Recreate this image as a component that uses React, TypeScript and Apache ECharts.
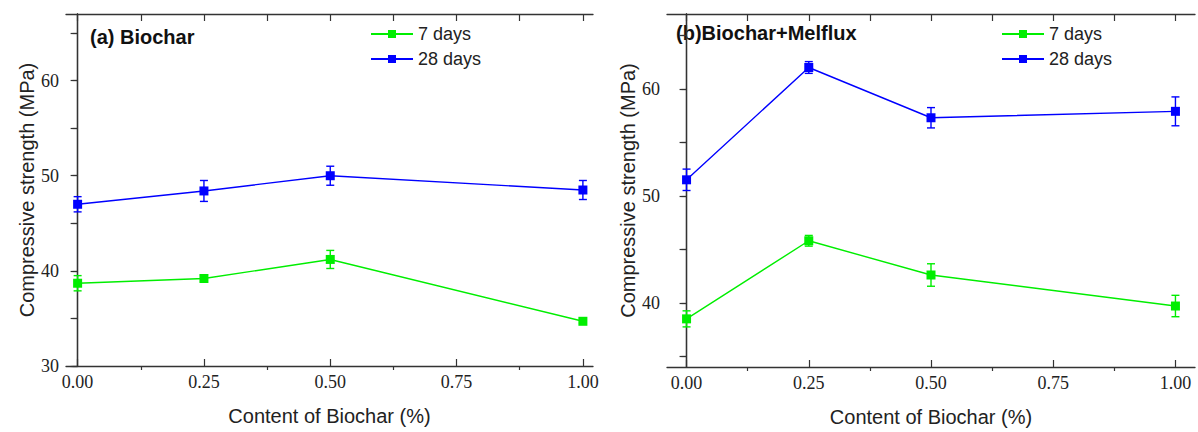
import React, { useEffect, useRef } from "react";
import * as echarts from "echarts";

const contents = [0, 0.25, 0.5, 1.0];
const xMajorTicks = [0, 0.25, 0.5, 0.75, 1.0];
const xMinorTicks = [0.125, 0.375, 0.625, 0.875];

const aDay7 = [38.7, 39.2, 41.2, 34.7];
const aDay7Err = [0.8, 0.3, 0.95, 0.2];
const aDay28 = [47.0, 48.4, 50.0, 48.5];
const aDay28Err = [0.8, 1.1, 1.0, 1.0];

const bDay7 = [38.5, 45.8, 42.6, 39.7];
const bDay7Err = [0.75, 0.5, 1.05, 1.0];
const bDay28 = [51.5, 62.0, 57.3, 57.9];
const bDay28Err = [1.0, 0.55, 0.95, 1.35];

const aYLabels = [30, 40, 50, 60];
const aYTicks = [30, 35, 40, 45, 50, 55, 60, 65];
const bYLabels = [40, 50, 60];
const bYTicks = [35, 40, 45, 50, 55, 60, 65];

const seriesNames = ["7 days", "28 days"];
const titleA = "(a) Biochar";
const titleB = "(b)Biochar+Melflux";
const xTitle = "Content of Biochar (%)";
const yTitle = "Compressive strength (MPa)";

const GREEN = "#00ee00";
const BLUE = "#0000ff";
const AXIS = "#333333";
const TEXT = "#222222";
const SERIF = "'Liberation Serif', 'Times New Roman', serif";
const SANS = "'Liberation Sans', Arial, sans-serif";

function pairs(vals: number[]) {
  return vals.map((v, i) => [contents[i], v]);
}
function errTriples(vals: number[], errs: number[]) {
  return vals.map((v, i) => [contents[i], v, errs[i]]);
}

function errRender(color: string) {
  return (params: any, api: any) => {
    const x = api.value(0);
    const y = api.value(1);
    const e = api.value(2);
    const top = api.coord([x, y + e]);
    const bot = api.coord([x, y - e]);
    const hw = 4;
    const style = { stroke: color, lineWidth: 1.4 };
    return {
      type: "group",
      children: [
        { type: "line", shape: { x1: top[0], y1: top[1], x2: bot[0], y2: bot[1] }, style },
        { type: "line", shape: { x1: top[0] - hw, y1: top[1], x2: top[0] + hw, y2: top[1] }, style },
        { type: "line", shape: { x1: bot[0] - hw, y1: bot[1], x2: bot[0] + hw, y2: bot[1] }, style },
      ],
    };
  };
}

function xAxes(gridIndex: number, min: number, max: number) {
  const base = { type: "value", gridIndex, min, max, splitLine: { show: false } };
  return [
    {
      ...base,
      position: "bottom",
      axisLine: { show: true, lineStyle: { color: AXIS, width: 1.3 } },
      axisTick: { show: true, inside: true, length: 7, customValues: xMajorTicks, lineStyle: { color: AXIS, width: 1.2 } },
      axisLabel: {
        show: true,
        customValues: xMajorTicks,
        margin: 7,
        fontFamily: SERIF,
        fontSize: 18,
        color: TEXT,
        formatter: (v: number) => v.toFixed(2),
      },
      name: xTitle,
      nameLocation: "middle",
      nameGap: 40,
      nameTextStyle: { fontFamily: SANS, fontSize: 20, color: TEXT },
    },
    {
      ...base,
      position: "bottom",
      axisLine: { show: false },
      axisTick: { show: true, inside: false, length: 4, customValues: xMinorTicks, lineStyle: { color: AXIS, width: 1.2 } },
      axisLabel: { show: false },
    },
    {
      ...base,
      position: "top",
      axisLine: { show: true, lineStyle: { color: AXIS, width: 1.3 } },
      axisTick: { show: true, inside: true, length: 7, customValues: [...xMajorTicks, ...xMinorTicks], lineStyle: { color: AXIS, width: 1.2 } },
      axisLabel: { show: false },
    },
  ];
}

function yAxes(gridIndex: number, min: number, max: number, labels: number[], ticks: number[]) {
  const base = { type: "value", gridIndex, min, max, splitLine: { show: false } };
  return [
    {
      ...base,
      position: "left",
      axisLine: { show: true, lineStyle: { color: AXIS, width: 1.3 } },
      axisTick: { show: true, inside: false, length: 5, customValues: ticks, lineStyle: { color: AXIS, width: 1.2 } },
      axisLabel: {
        show: true,
        customValues: labels,
        margin: 7,
        fontFamily: SERIF,
        fontSize: 18,
        color: TEXT,
      },
      name: yTitle,
      nameLocation: "middle",
      nameGap: 27,
      nameRotate: 90,
      nameTextStyle: { fontFamily: SANS, fontSize: 20, color: TEXT },
    },
    {
      ...base,
      position: "right",
      axisLine: { show: true, lineStyle: { color: AXIS, width: 1.3 } },
      axisTick: { show: true, inside: true, length: 7, customValues: ticks, lineStyle: { color: AXIS, width: 1.2 } },
      axisLabel: { show: false },
    },
  ];
}

function lineSeries(name: string, color: string, vals: number[], xi: number, yi: number) {
  return {
    type: "line",
    name,
    xAxisIndex: xi,
    yAxisIndex: yi,
    data: pairs(vals),
    symbol: "rect",
    symbolSize: 9,
    showSymbol: true,
    lineStyle: { color, width: 1.4 },
    itemStyle: { color },
    z: 3,
  };
}

function errSeries(name: string, color: string, vals: number[], errs: number[], xi: number, yi: number) {
  return {
    type: "custom",
    name: name + " err",
    xAxisIndex: xi,
    yAxisIndex: yi,
    data: errTriples(vals, errs),
    renderItem: errRender(color),
    encode: { x: 0, y: 1 },
    z: 2,
    silent: true,
  };
}

function legend(left: number) {
  return {
    data: seriesNames,
    orient: "vertical",
    left,
    top: 24,
    padding: 0,
    itemGap: 5,
    itemWidth: 42,
    itemHeight: 10,
    textStyle: { fontFamily: SANS, fontSize: 18, color: TEXT, lineHeight: 20 },
    selectedMode: false,
  };
}

export default function App() {
  const ref = useRef<HTMLDivElement>(null);
  useEffect(() => {
    if (!ref.current) return;
    const chart = echarts.init(ref.current, undefined, { renderer: "svg" });
    const option: any = {
      animation: false,
      backgroundColor: "#ffffff",
      grid: [
        { left: 66, top: 14, width: 527, height: 352 },
        { left: 667, top: 14, width: 528, height: 353 },
      ],
      xAxis: [...xAxes(0, -0.023, 1.02), ...xAxes(1, -0.04, 1.04)],
      yAxis: [...yAxes(0, 30, 67, aYLabels, aYTicks), ...yAxes(1, 34, 67, bYLabels, bYTicks)],
      legend: [legend(370), legend(1001)],
      graphic: [
        {
          type: "text",
          left: 90,
          top: 27,
          style: { text: titleA, fontFamily: SANS, fontSize: 20, fontWeight: "bold", fill: "#111" },
        },
        {
          type: "text",
          left: 676,
          top: 23,
          style: { text: titleB, fontFamily: SANS, fontSize: 20, fontWeight: "bold", fill: "#111" },
        },
      ],
      series: [
        errSeries(seriesNames[0], GREEN, aDay7, aDay7Err, 0, 0),
        errSeries(seriesNames[1], BLUE, aDay28, aDay28Err, 0, 0),
        lineSeries(seriesNames[0], GREEN, aDay7, 0, 0),
        lineSeries(seriesNames[1], BLUE, aDay28, 0, 0),
        errSeries(seriesNames[0], GREEN, bDay7, bDay7Err, 3, 2),
        errSeries(seriesNames[1], BLUE, bDay28, bDay28Err, 3, 2),
        lineSeries(seriesNames[0], GREEN, bDay7, 3, 2),
        lineSeries(seriesNames[1], BLUE, bDay28, 3, 2),
      ],
    };
    chart.setOption(option);
    return () => chart.dispose();
  }, []);
  return (
    <div
      ref={ref}
      style={{ position: "fixed", left: 0, top: 0, width: 1198, height: 432, background: "#fff" }}
    />
  );
}
